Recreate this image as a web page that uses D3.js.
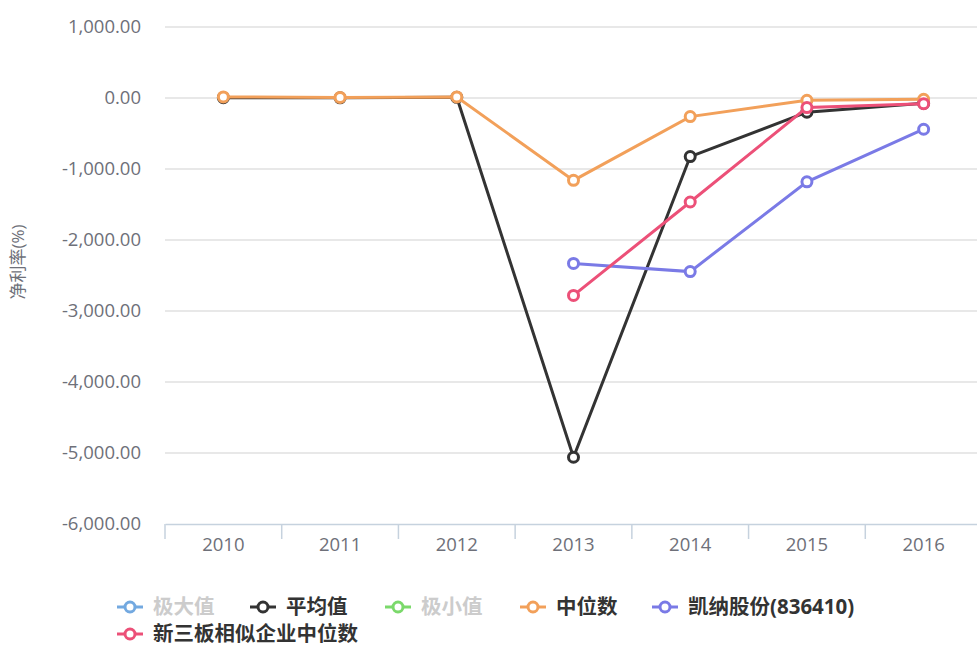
<!DOCTYPE html>
<html><head><meta charset="utf-8">
<script src="https://cdn.jsdelivr.net/npm/d3@7"></script>
<style>body{margin:0;background:#fff;overflow:hidden}svg{display:block;font-family:"Open Sans","Noto Sans CJK SC",sans-serif}</style>
</head><body><svg id="c" width="977" height="647"></svg>
<script>
const years = ["2010","2011","2012","2013","2014","2015","2016"];
const yTicks = [1000,0,-1000,-2000,-3000,-4000,-5000,-6000];
const seriesNames = ["极大值","平均值","极小值","中位数","凯纳股份(836410)","新三板相似企业中位数"];
const seriesColors = ["#73a9e0","#333333","#7bd96b","#f2a05a","#7a7ae6","#ec5078"];
const seriesHidden = [true,false,true,false,false,false];
const maxVals = [null,null,null,null,null,null,null];
const avgVals = [5,3,10,-5060,-825,-200,-75];
const minVals = [null,null,null,null,null,null,null];
const medVals = [15,8,15,-1160,-262,-32,-18];
const kainaVals = [null,null,null,-2330,-2445,-1180,-440];
const neeqVals = [null,null,null,-2780,-1465,-135,-80];
const allVals = [maxVals,avgVals,minVals,medVals,kainaVals,neeqVals];

(function(){
const FF = "'Open Sans','Noto Sans CJK SC',sans-serif";
const svg = d3.select("#c");
const pl = 165, pr = 982, pt = 27, pb = 524;
const x = d3.scaleBand().domain(years).range([pl,pr]);
const y = d3.scaleLinear().domain([-6000,1000]).range([pb,pt]);
const fmt = v => d3.format(",.2f")(v).replace("\u2212","-");

svg.append("g").selectAll("line").data(yTicks.filter(t=>t!==-6000)).join("line")
  .attr("x1",pl).attr("x2",pr).attr("y1",d=>y(d)).attr("y2",d=>y(d))
  .attr("stroke","#e0e0e0").attr("stroke-width",1.5);

svg.append("g").selectAll("text").data(yTicks).join("text")
  .attr("x",141).attr("y",d=>y(d)).attr("dy","0.35em").attr("text-anchor","end")
  .attr("font-size",18.5).attr("fill","#6e7079").text(d=>fmt(d));

const xa = svg.append("g").attr("transform",`translate(0,${pb})`)
  .call(d3.axisBottom(x).tickSize(0).tickPadding(14));
xa.select(".domain").attr("stroke","#c6d2de").attr("stroke-width",1.5);
xa.selectAll("text").attr("font-size",18.5).attr("fill","#6e7079").attr("font-family",FF);
const bounds = years.map(d=>x(d)).concat([pr]);
xa.selectAll(".bt").data(bounds).join("line").attr("class","bt")
  .attr("x1",d=>d).attr("x2",d=>d).attr("y1",0).attr("y2",15)
  .attr("stroke","#c6d2de").attr("stroke-width",1.5);

svg.append("text").attr("transform","translate(24,262) rotate(-90)")
  .attr("text-anchor","middle").attr("font-size",17).attr("fill","#6e7079").text("净利率(%)");

const cx = d=>x(d.year)+x.bandwidth()/2;
const line = d3.line().defined(d=>d.v!==null).x(cx).y(d=>y(d.v));
allVals.forEach((vals,i)=>{
  if(seriesHidden[i]) return;
  const data = years.map((yr,j)=>({year:yr,v:vals[j]}));
  const g = svg.append("g");
  g.append("path").datum(data).attr("d",line).attr("fill","none")
    .attr("stroke",seriesColors[i]).attr("stroke-width",3);
  g.selectAll("circle").data(data.filter(d=>d.v!==null)).join("circle")
    .attr("cx",cx).attr("cy",d=>y(d.v)).attr("r",5)
    .attr("fill","#fff").attr("stroke",seriesColors[i]).attr("stroke-width",3);
});

const legPos = [[117,607],[250,607],[385,607],[520,607],[652,607],[117,634]];
seriesNames.forEach((n,i)=>{
  const [lx,ly] = legPos[i];
  const col = seriesHidden[i] ? "#ccc" : "#333";
  const g = svg.append("g").attr("transform",`translate(${lx},${ly})`);
  g.append("line").attr("x1",0).attr("x2",26).attr("y1",0).attr("y2",0)
    .attr("stroke",seriesColors[i]).attr("stroke-width",3);
  g.append("circle").attr("cx",13).attr("cy",0).attr("r",5).attr("fill","#fff")
    .attr("stroke",seriesColors[i]).attr("stroke-width",3);
  g.append("text").attr("x",36).attr("y",0).attr("dy","0.35em")
    .attr("font-size",20.5).attr("font-weight","bold").attr("fill",col).text(n);
});
})();
</script></body></html>
